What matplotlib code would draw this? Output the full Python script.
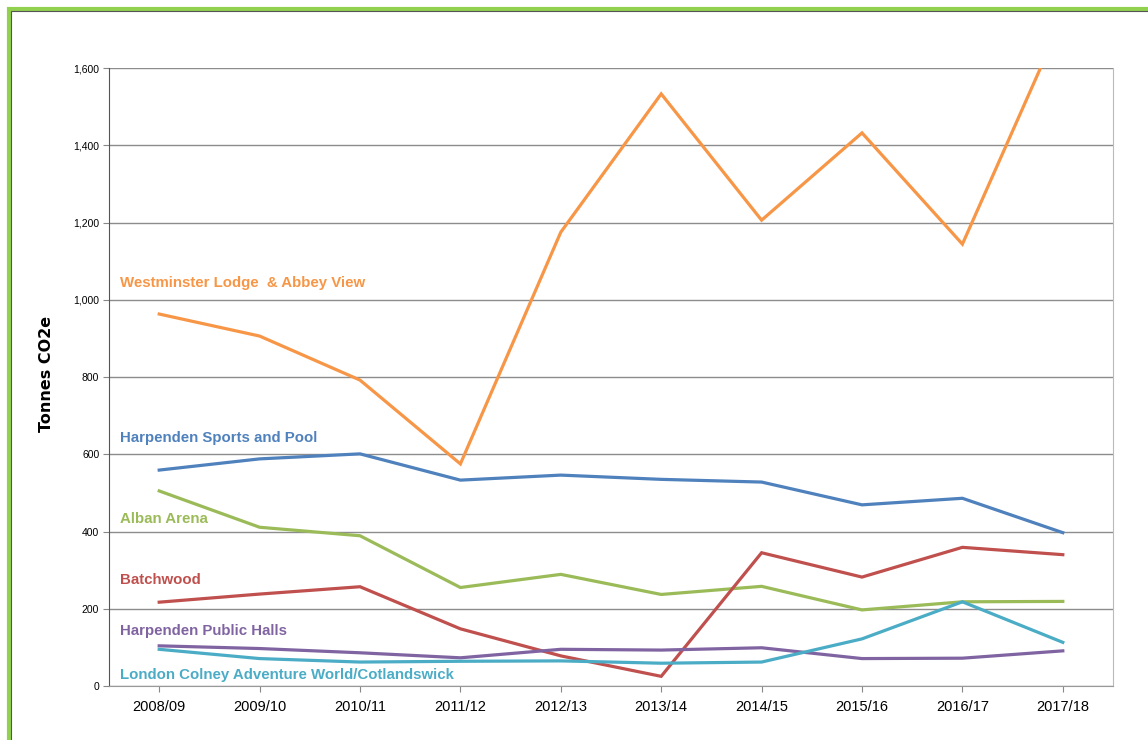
import matplotlib
matplotlib.use("Agg")
import matplotlib.pyplot as plt
from matplotlib.patches import Rectangle

# -----------------------------------------------------------
# Data (tonnes CO2e per site and year)
# -----------------------------------------------------------
years = ["2008/09", "2009/10", "2010/11", "2011/12", "2012/13",
         "2013/14", "2014/15", "2015/16", "2016/17", "2017/18"]

westminster = [963, 906, 792, 575, 1175, 1533, 1206, 1432, 1144, 1730]
sports_pool = [559, 588, 601, 533, 546, 535, 528, 469, 486, 397]
alban_arena = [505, 411, 389, 255, 289, 237, 258, 197, 218, 219]
batchwood = [217, 238, 257, 148, 78, 25, 345, 282, 359, 340]
public_halls = [104, 97, 86, 73, 95, 93, 99, 71, 72, 91]
london_colney = [95, 71, 62, 64, 65, 59, 62, 122, 218, 113]

series = [
    ("Westminster Lodge  & Abbey View", westminster, "#F79646", 1043),
    ("Harpenden Sports and Pool", sports_pool, "#4F81BD", 642),
    ("Alban Arena", alban_arena, "#9BBB59", 432),
    ("Batchwood", batchwood, "#C0504D", 274),
    ("Harpenden Public Halls", public_halls, "#8064A2", 142),
    ("London Colney Adventure World/Cotlandswick", london_colney, "#4BACC6", 28),
]

label_font = ["Liberation Sans Narrow", "Liberation Sans", "DejaVu Sans"]

# -----------------------------------------------------------
# Figure
# -----------------------------------------------------------
fig = plt.figure(figsize=(11.48, 7.4), dpi=100)
ax = fig.add_axes([109 / 1148, 54 / 740, 1004 / 1148, 618 / 740])

x = range(len(years))
for name, vals, color, ly in series:
    ax.plot(x, vals, color=color, lw=2.3, solid_joinstyle="miter", zorder=3)
    ax.text(0.011, ly, name, transform=ax.get_yaxis_transform(),
            color=color, fontsize=10.8, fontweight="bold",
            family=label_font, va="center", ha="left", zorder=4)

ax.set_xlim(-0.5, len(years) - 0.5)
ax.set_ylim(0, 1600)
ax.set_yticks(range(0, 1601, 200))
ax.set_yticklabels([f"{v:,}" for v in range(0, 1601, 200)],
                   fontsize=7.5, family=label_font)
ax.set_xticks(list(x))
ax.set_xticklabels(years, fontsize=10.5, family=label_font)
ax.tick_params(axis="x", length=4, color="#888888", pad=6)
ax.tick_params(axis="y", length=4, color="#888888", pad=3)

ax.grid(axis="y", color="#8c8c8c", lw=1.0, zorder=1)
ax.set_axisbelow(True)
ax.spines["top"].set_visible(False)
ax.spines["left"].set_color("#555555")
ax.spines["bottom"].set_color("#999999")
ax.spines["right"].set_color("#bbbbbb")

ax.set_ylabel("Tonnes CO2e", fontsize=11.5, fontweight="bold")
ax.yaxis.set_label_coords(-0.055, 0.505)

# green frame around the chart
fig.patches.append(Rectangle((9 / 1148, -0.05), 1.2, 1 - 9 / 740 + 0.05,
                             transform=fig.transFigure, fill=False,
                             edgecolor="#92D050", lw=3))
fig.patches.append(Rectangle((11 / 1148, -0.05), 1.2, 1 - 11 / 740 + 0.05,
                             transform=fig.transFigure, fill=False,
                             edgecolor="#555555", lw=0.8))

fig.savefig("out.png", dpi=100)
